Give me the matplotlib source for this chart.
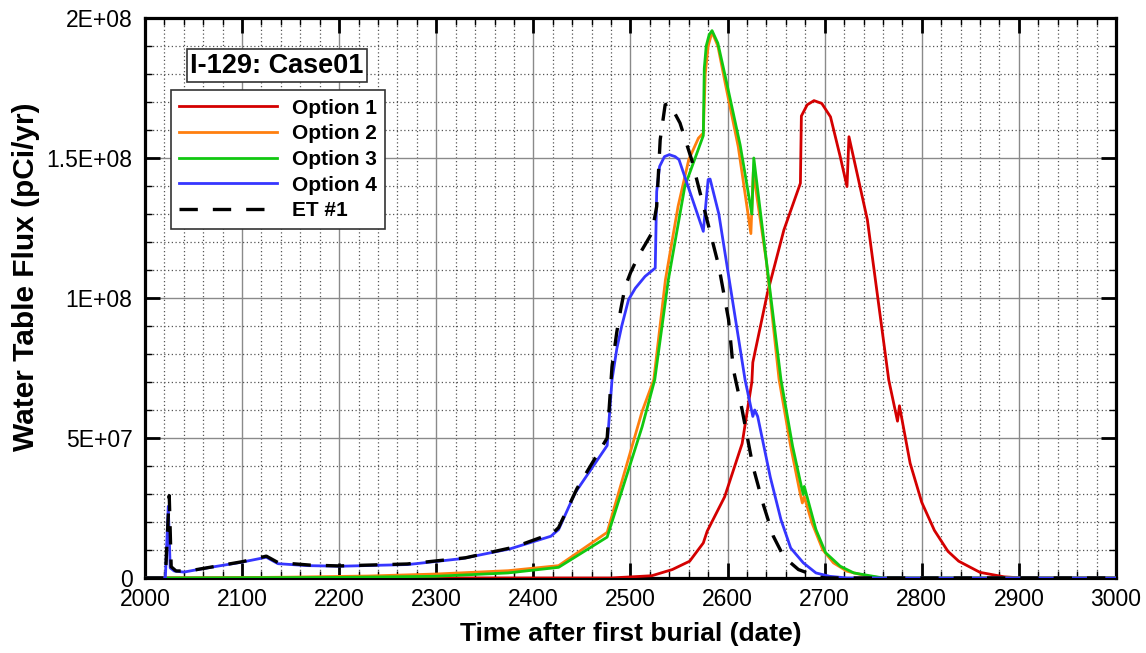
"""Water table flux for I-129, Case01: four options plus ET #1."""

import matplotlib
matplotlib.use("Agg")
import matplotlib.pyplot as plt
from matplotlib.ticker import MultipleLocator, FuncFormatter

plt.rcParams["font.family"] = ["Liberation Sans", "DejaVu Sans"]

E7 = 1e7

# Option 1
x_opt1 = [2000, 2480, 2522, 2543, 2561, 2575, 2579, 2597, 2615, 2625, 2626,
          2641, 2658, 2675, 2676, 2682, 2689, 2697, 2706, 2716, 2723, 2725,
          2744, 2766, 2775, 2777, 2788, 2800, 2813, 2827, 2838, 2860, 2885,
          2903, 3000]
y_opt1 = [0, 0, 0.08, 0.3, 0.6, 1.25, 1.67, 2.9, 4.8, 7.0, 7.7,
          10.17, 12.43, 14.1, 16.5, 16.9, 17.05, 16.95, 16.47, 15.05, 13.98, 15.76,
          12.79, 7.07, 5.6, 6.15, 4.1, 2.7, 1.7, 0.95, 0.6, 0.2, 0.04,
          0, 0]

# Option 2
x_opt2 = [2000, 2060, 2150, 2230, 2299, 2374, 2426, 2476, 2512, 2524, 2536,
          2549, 2560, 2570, 2575, 2577, 2580, 2584, 2590, 2598, 2611, 2624,
          2626.5, 2640, 2653, 2665, 2674, 2677, 2679, 2687, 2698, 2709, 2723,
          2745, 2760, 3000]
y_opt2 = [0, 0, 0.03, 0.07, 0.14, 0.26, 0.44, 1.63, 5.95, 7.08, 10.65,
          13.27, 14.94, 15.71, 15.89, 18.0, 19.0, 19.5, 19.0, 17.6, 15.4, 12.3,
          14.5, 11.3, 7.1, 4.7, 3.15, 2.68, 2.9, 1.96, 1.01, 0.54, 0.24,
          0.06, 0, 0]

# Option 3
x_opt3 = [2000, 2020, 2200, 2299, 2374, 2426, 2476, 2512, 2525, 2539, 2556,
          2575, 2576, 2578, 2581, 2584, 2590, 2598, 2613, 2625, 2627, 2639,
          2655, 2667, 2676, 2678, 2679, 2691, 2701, 2716, 2730, 2760, 3000]
y_opt3 = [0, 0, 0.02, 0.06, 0.18, 0.38, 1.46, 5.4, 7.08, 10.65, 13.99,
          15.8, 18.2, 19.0, 19.4, 19.55, 19.1, 17.86, 15.46, 13.0, 15.0, 11.6,
          7.08, 4.7, 3.27, 2.98, 3.27, 1.73, 0.9, 0.42, 0.18, 0, 0]

# Option 4
x_opt4 = [2000, 2021, 2024, 2026, 2030, 2040, 2064, 2099, 2125, 2137, 2168,
          2202, 2271, 2326, 2376, 2418, 2426, 2443, 2476, 2481, 2486, 2491,
          2498, 2505, 2515, 2525.5, 2527, 2530, 2535, 2540, 2546, 2550, 2575,
          2580, 2582, 2591, 2618, 2626, 2628, 2631, 2644, 2655, 2665, 2678,
          2691, 2705, 2723, 3000]
y_opt4 = [0, 0, 2.56, 0.36, 0.25, 0.21, 0.36, 0.56, 0.74, 0.51, 0.44,
          0.42, 0.48, 0.69, 1.04, 1.49, 1.73, 3.04, 4.73, 7.08, 8.2, 9.0,
          9.94, 10.35, 10.77, 11.07, 13.8, 14.7, 15.05, 15.12, 15.05, 14.94, 12.38,
          14.23, 14.25, 13.0, 7.08, 5.77, 6.0, 5.77, 3.6, 2.08, 1.07, 0.54,
          0.18, 0.06, 0, 0]

# ET #1
x_et1 = [2000, 2021, 2025, 2027, 2032, 2045, 2070, 2100, 2125, 2137, 2170,
         2200, 2270, 2330, 2380, 2420, 2426, 2445, 2476, 2481, 2486, 2490,
         2494.5, 2500, 2508, 2515, 2522, 2527, 2530.6, 2535.7, 2540, 2551,
         2563, 2577, 2591, 2601, 2606, 2615, 2626, 2637, 2647, 2658, 2673,
         2687, 2694, 2700, 3000]
y_et1 = [0, 0, 2.94, 0.4, 0.25, 0.25, 0.4, 0.58, 0.78, 0.55, 0.46,
         0.43, 0.5, 0.72, 1.1, 1.6, 1.8, 3.2, 5.0, 7.56, 8.8, 9.6,
         10.4, 10.9, 11.49, 11.9, 12.32, 13.27, 15.65, 16.9, 16.96, 16.25,
         14.94, 13.04, 11.13, 9.23, 7.44, 6.0, 4.0, 2.6, 1.5, 0.75, 0.3,
         0.12, 0.04, 0, 0]

series = [
    ("Option 1", x_opt1, y_opt1, "#d40000", "-"),
    ("Option 2", x_opt2, y_opt2, "#ff7f0e", "-"),
    ("Option 3", x_opt3, y_opt3, "#11c811", "-"),
    ("Option 4", x_opt4, y_opt4, "#3636ff", "-"),
    ("ET #1", x_et1, y_et1, "black", "--"),
]


def sci(v, _pos):
    if v == 0:
        return "0"
    return f"{v:.1E}".replace(".0E", "E")


fig = plt.figure(figsize=(11.46, 6.53), dpi=100)
ax = fig.add_axes([0.1265, 0.1149, 0.8473, 0.8575])

for name, xs, ys, col, ls in series:
    yy = [v * E7 for v in ys]
    if ls == "--":
        ax.plot(xs, yy, color=col, lw=2.4, dashes=(5.5, 4.5), label=name, zorder=5)
    else:
        ax.plot(xs, yy, color=col, lw=2.0, label=name, zorder=4)

ax.set_xlim(2000, 3000)
ax.set_ylim(0, 2e8)
ax.xaxis.set_major_locator(MultipleLocator(100))
ax.xaxis.set_minor_locator(MultipleLocator(20))
ax.yaxis.set_major_locator(MultipleLocator(5e7))
ax.yaxis.set_minor_locator(MultipleLocator(1e7))
ax.yaxis.set_major_formatter(FuncFormatter(sci))

ax.grid(which="major", color="#8a8a8a", lw=1.0, ls="-")
ax.grid(which="minor", color="#555555", lw=0.9, ls=(0, (1, 2)))
ax.set_axisbelow(True)

ax.tick_params(which="both", direction="in", top=True, right=True)
ax.tick_params(which="major", length=10.5, width=2, labelsize=16.5, pad=7)
ax.tick_params(which="minor", length=5, width=1)
ax.tick_params(axis="y", which="major", pad=9)
for sp in ax.spines.values():
    sp.set_linewidth(2.3)

ax.set_xlabel("Time after first burial (date)", fontsize=19, fontweight="bold",
              labelpad=8)
ax.set_ylabel("Water Table Flux (pCi/yr)", fontsize=21.5, fontweight="bold")
ax.yaxis.set_label_coords(-0.108, 0.5375)

leg = ax.legend(loc="upper left", bbox_to_anchor=(0.0268, 0.871),
                borderaxespad=0, fancybox=False, framealpha=1,
                edgecolor="#333333", handlelength=4.7, handletextpad=0.7,
                labelspacing=0.32, borderpad=0.4,
                prop={"weight": "bold", "size": 15})
leg.get_frame().set_linewidth(1.2)
leg.set_zorder(10)

ax.text(0.136, 0.915, "I-129: Case01", transform=ax.transAxes, fontsize=19.5,
        fontweight="bold", ha="center", va="center", zorder=11,
        bbox=dict(boxstyle="square,pad=0.12", fc="white", ec="#333333", lw=1.2))

fig.savefig("out.png", dpi=100)
